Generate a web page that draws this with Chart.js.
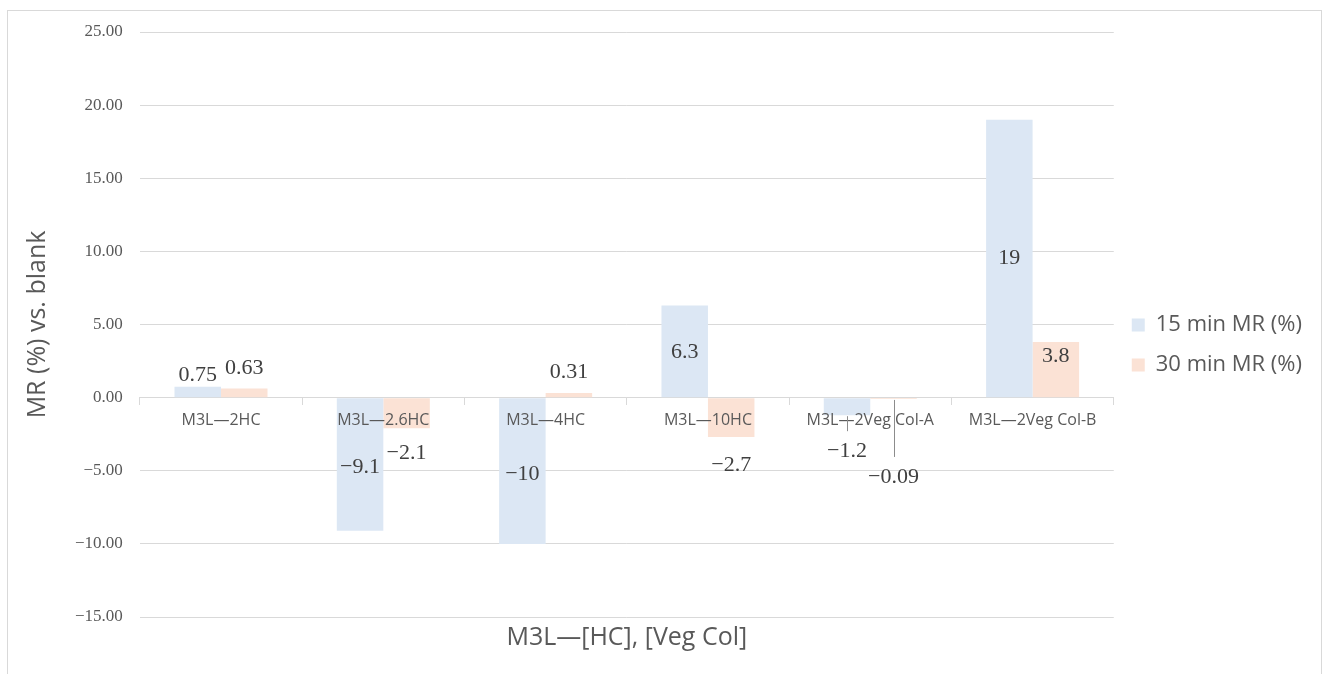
<!DOCTYPE html>
<html>
<head>
<meta charset="utf-8">
<script src="https://cdn.jsdelivr.net/npm/chart.js@4.4.1/dist/chart.umd.min.js"></script>
<style>
  html, body { margin: 0; padding: 0; background: #ffffff; }
  #frame {
    position: absolute; left: 7px; top: 10px; width: 1315px; height: 680px;
    border: 1px solid #d9d9d9; box-sizing: border-box;
  }
  #wrap { position: absolute; left: 0; top: 0; width: 1324px; height: 674px; }
</style>
</head>
<body>
<div id="frame"></div>
<div id="wrap"><canvas id="c" width="1324" height="674"></canvas></div>
<script>
// Categories and series
const categories = ['M3L\u20142HC', 'M3L\u20142.6HC', 'M3L\u20144HC', 'M3L\u201410HC', 'M3L\u20142Veg Col-A', 'M3L\u20142Veg Col-B'];
const mr15 = [0.75, -9.1, -10, 6.3, -1.2, 19];
const mr30 = [0.63, -2.1, 0.31, -2.7, -0.09, 3.8];
const seriesNames = ['15 min MR (%)', '30 min MR (%)'];
const yTicks = [-15, -10, -5, 0, 5, 10, 15, 20, 25];

// Where each value label sits relative to its bar: 'mid' = centred in the bar,
// 'out' = beyond the bar end; shift in px; 'lead' adds a connector line.
const labelPlacement = [
  [{m: 'out', d: 11}, {m: 'mid', d: 3}, {m: 'mid', d: 3}, {m: 'mid', d: 1}, {m: 'lead', d: 36}, {m: 'mid', d: 0}],
  [{m: 'out', d: 20}, {m: 'out', d: 25}, {m: 'out', d: 21}, {m: 'out', d: 28}, {m: 'lead', d: 78}, {m: 'mid', d: -13}]
];

const TEXT = '#595959';
const GRID = '#d9d9d9';
const SANS = '"Open Sans", sans-serif';
const SERIF = '"Liberation Serif", "Times New Roman", serif';

const minus = s => s.replace('-', '\u2212');

const valueLabels = {
  id: 'valueLabels',
  afterDraw(chart) {
    const ctx = chart.ctx;
    ctx.save();
    ctx.font = '22px ' + SERIF;
    ctx.fillStyle = '#404040';
    ctx.textAlign = 'center';
    ctx.textBaseline = 'middle';
    chart.data.datasets.forEach((ds, di) => {
      const meta = chart.getDatasetMeta(di);
      meta.data.forEach((bar, i) => {
        const v = ds.data[i];
        const p = labelPlacement[di][i];
        const dir = v >= 0 ? -1 : 1;
        let y;
        if (p.m === 'mid') {
          y = (bar.y + bar.base) / 2 + p.d;
        } else {
          y = bar.y + dir * p.d;
        }
        if (p.m === 'lead') {
          ctx.save();
          ctx.strokeStyle = '#8c8c8c';
          ctx.lineWidth = 1;
          ctx.beginPath();
          ctx.moveTo(Math.round(bar.x) + 0.5, bar.y + 1);
          ctx.lineTo(Math.round(bar.x) + 0.5, y - 20);
          ctx.stroke();
          ctx.restore();
        }
        ctx.fillText(minus(String(v)), bar.x, y);
      });
    });
    ctx.restore();
  }
};

new Chart(document.getElementById('c'), {
  type: 'bar',
  data: {
    labels: categories,
    datasets: [
      { label: seriesNames[0], data: mr15, backgroundColor: '#dce7f4' },
      { label: seriesNames[1], data: mr30, backgroundColor: '#fbe2d5' }
    ]
  },
  plugins: [valueLabels],
  options: {
    responsive: false,
    animation: false,
    devicePixelRatio: 1,
    categoryPercentage: 0.573,
    barPercentage: 1,
    layout: { padding: { left: 18, right: 12, top: 32, bottom: 16 } },
    plugins: {
      legend: {
        position: 'right',
        labels: {
          boxWidth: 13, boxHeight: 13, padding: 18,
          color: TEXT, font: { family: SANS, size: 22 }
        }
      },
      title: {
        display: true,
        position: 'bottom',
        fullSize: false,
        text: 'M3L\u2014[HC], [Veg Col]',
        color: TEXT,
        font: { family: SANS, size: 25, weight: 'normal' },
        padding: { top: 6, bottom: 5 }
      },
      tooltip: { enabled: false }
    },
    scales: {
      x: {
        position: { y: 0 },
        grid: {
          display: true, drawOnChartArea: false, drawTicks: true,
          tickLength: 7, color: GRID, offset: true
        },
        border: { display: true, color: GRID },
        ticks: { z: 1, color: TEXT, font: { family: SANS, size: 16 }, padding: 6, maxRotation: 0 }
      },
      y: {
        min: -15, max: 25,
        afterBuildTicks(scale) { scale.ticks = yTicks.map(v => ({ value: v })); },
        grid: { color: GRID, drawTicks: false },
        border: { display: false },
        ticks: {
          color: TEXT, padding: 17,
          font: { family: SERIF, size: 17 },
          callback: v => minus(Number(v).toFixed(2))
        },
        title: {
          display: true,
          text: 'MR (%) vs. blank',
          color: TEXT,
          font: { family: SANS, size: 25 },
          padding: { top: 5, bottom: 5 }
        }
      }
    }
  }
});
</script>
</body>
</html>
